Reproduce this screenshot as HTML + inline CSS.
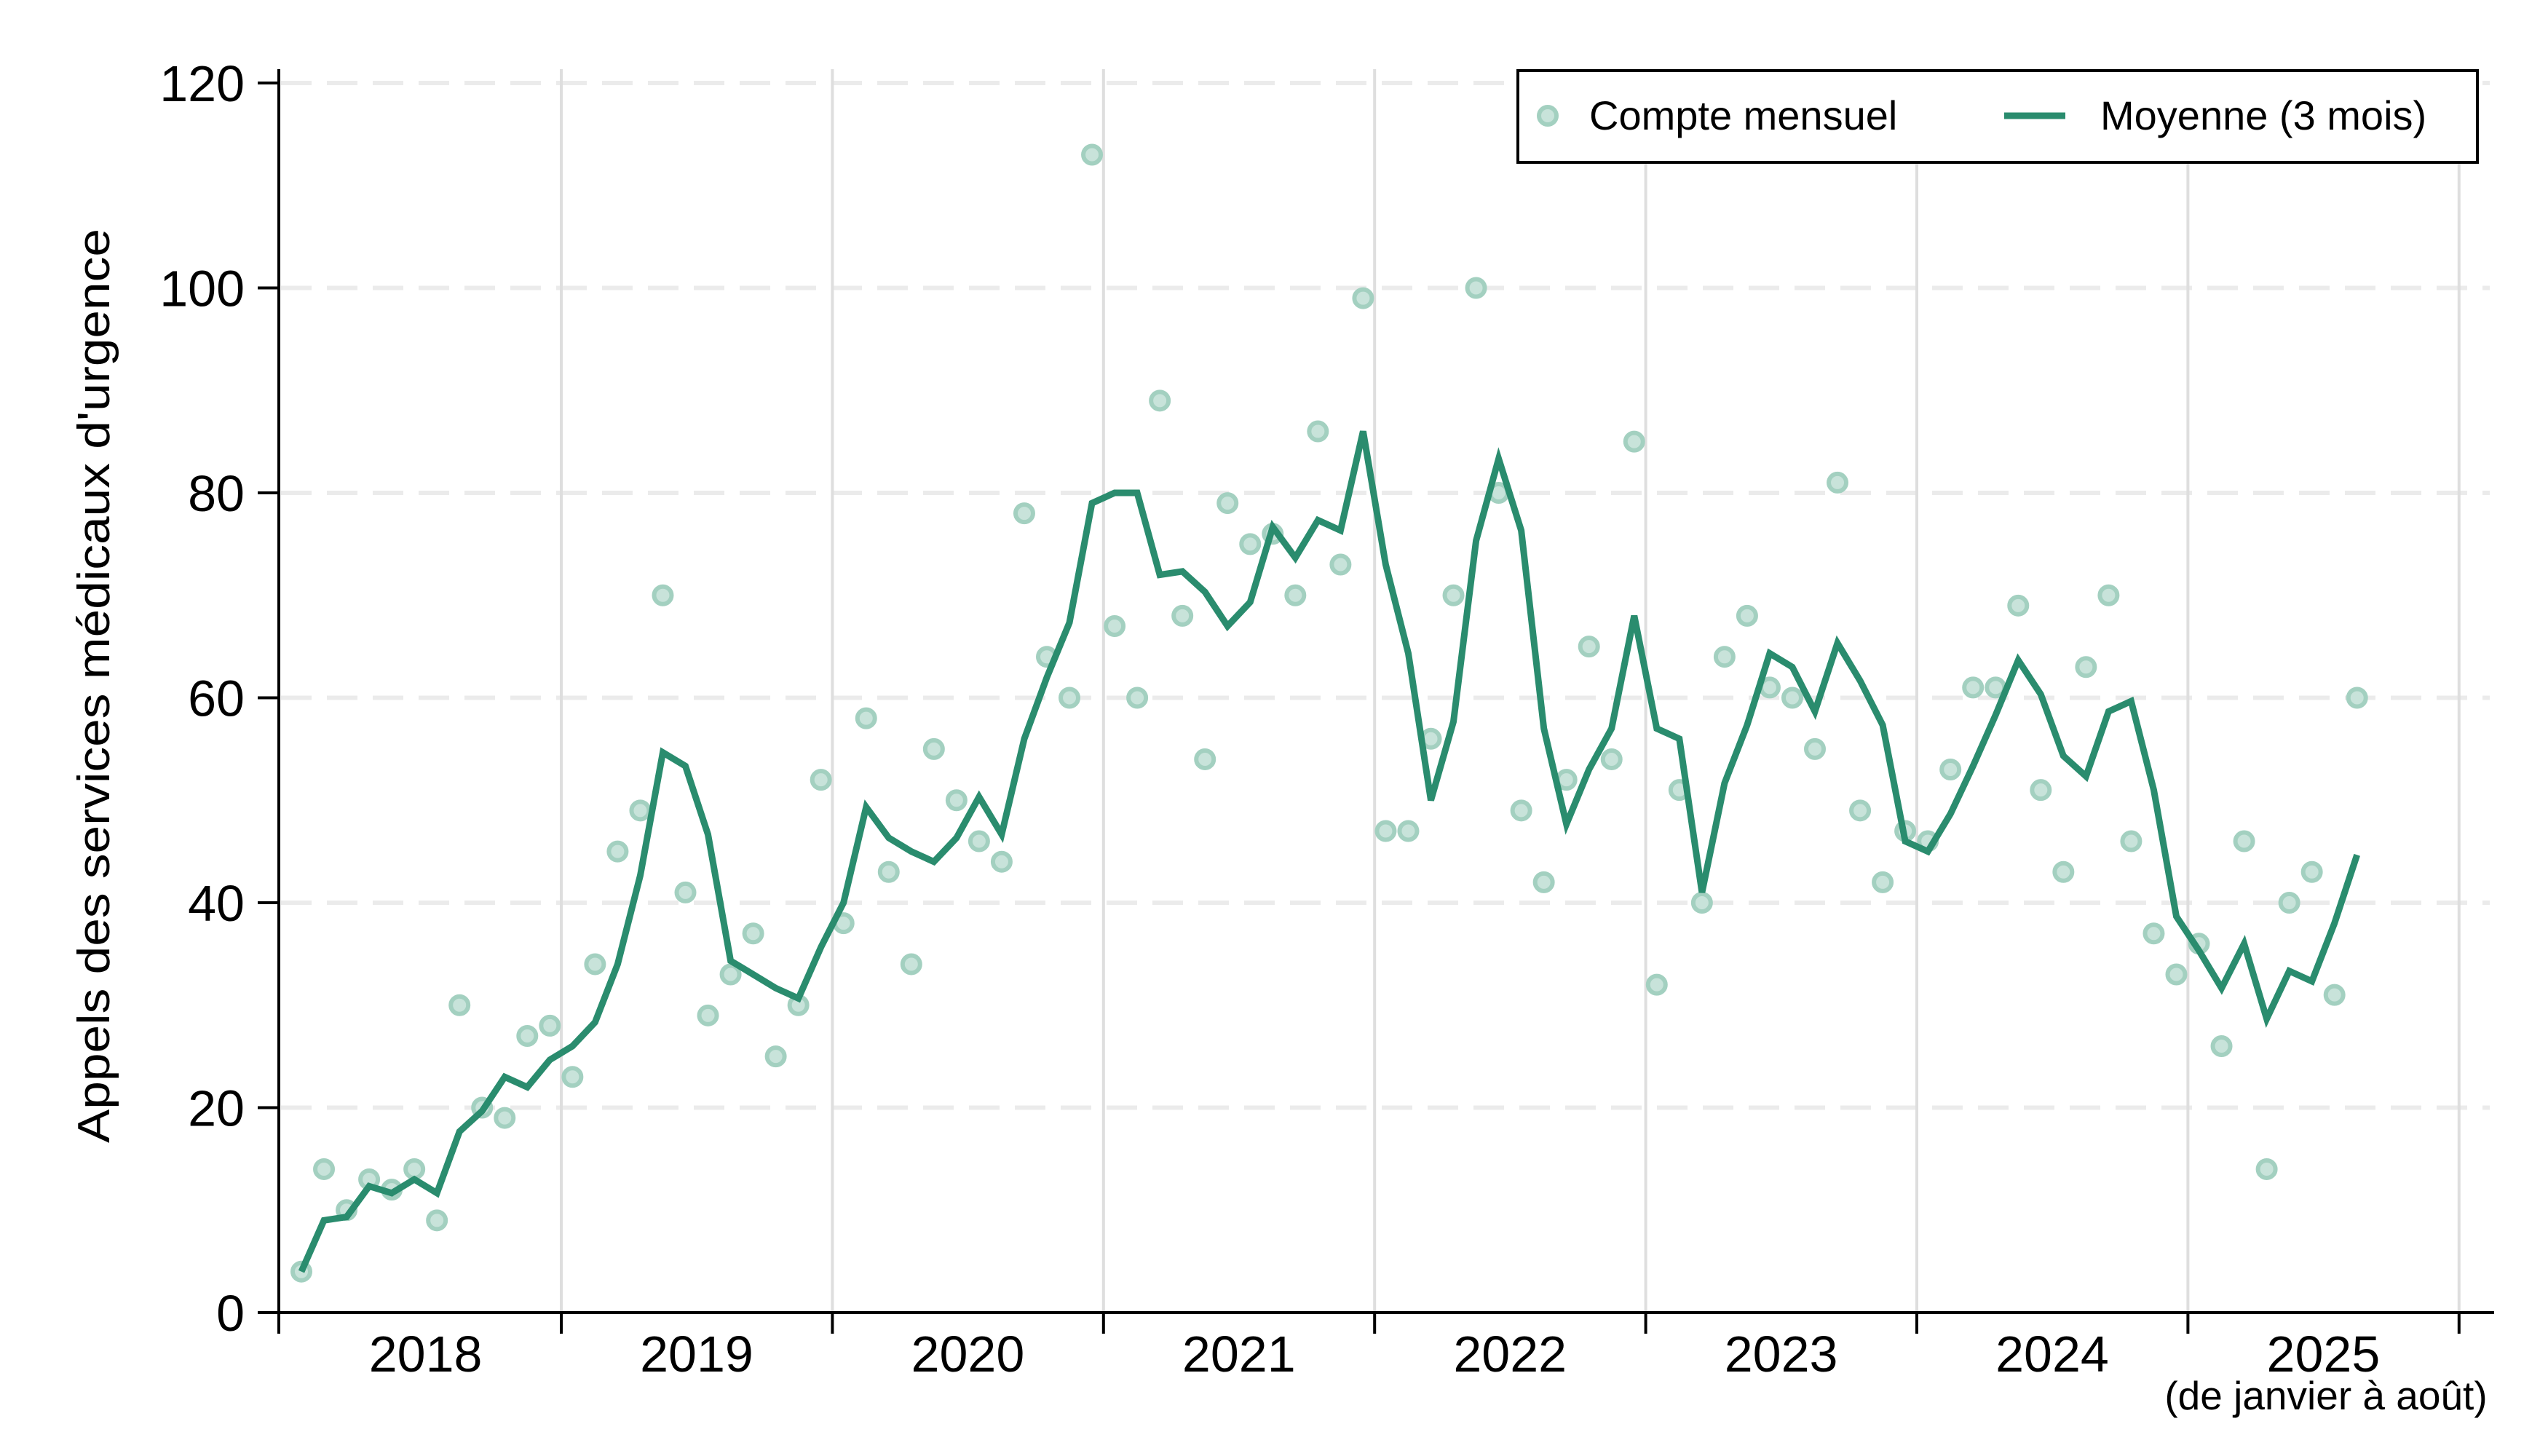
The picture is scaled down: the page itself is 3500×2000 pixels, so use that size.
<!DOCTYPE html>
<html><head><meta charset="utf-8"><style>
html,body{margin:0;padding:0;background:#fff;}
svg{display:block;font-family:"Liberation Sans",Arial,sans-serif;}
</style></head><body>
<svg id="s" width="3500" height="2000" viewBox="0 0 3500 2000" xmlns="http://www.w3.org/2000/svg">
<rect width="3500" height="2000" fill="#fff"/>
<g id="grid"></g>
<g id="axes" stroke="#000" stroke-width="4" fill="none"></g>
<g id="ylab" font-size="70" text-anchor="end" fill="#000"></g>
<g id="xlab" font-size="70" text-anchor="middle" fill="#000"></g>
<text x="3195" y="1936" font-size="55" text-anchor="middle">(de janvier à août)</text>
<text transform="translate(150,942) rotate(-90)" font-size="62" text-anchor="middle" textLength="1256" lengthAdjust="spacingAndGlyphs">Appels des services médicaux d'urgence</text>
<g id="pts"></g>
<polyline id="line" fill="none" stroke="#2a8c6e" stroke-width="9" stroke-linejoin="miter"/>
<rect x="2085" y="97" width="1318" height="126" fill="#fff" stroke="#000" stroke-width="4"/>
<circle cx="2126" cy="159" r="12" fill="#c8e3da" stroke="#a3d0c0" stroke-width="6"/>
<text x="2183" y="178" font-size="56">Compte mensuel</text>
<line x1="2753" y1="159" x2="2837" y2="159" stroke="#2a8c6e" stroke-width="9"/>
<text x="2885" y="178" font-size="56">Moyenne (3 mois)</text>
</svg>
<script>
var NS="http://www.w3.org/2000/svg";
function el(p,t,a,txt){var e=document.createElementNS(NS,t);for(var k in a)e.setAttribute(k,a[k]);if(txt!=null)e.textContent=txt;document.getElementById(p).appendChild(e);return e;}
var y0=1803,unit=281.5/20;
function Y(v){return y0-v*unit;}
function X(m){return 414+31.03*m;}
for(var v=20;v<=120;v+=20){el("grid","line",{x1:386,x2:3420,y1:Y(v),y2:Y(v),stroke:"#ebebeb","stroke-width":6,"stroke-dasharray":"42 21"});}
for(var k=1;k<=8;k++){var x=398.6+372.4*k;el("grid","line",{x1:x,x2:x,y1:95,y2:1803,stroke:"#dedede","stroke-width":4});}
el("axes","line",{x1:383,y1:95,x2:383,y2:1805});
el("axes","line",{x1:381,y1:1803,x2:3426,y2:1803});
for(var v=0;v<=120;v+=20){el("axes","line",{x1:354,x2:383,y1:Y(v),y2:Y(v)});el("ylab","text",{x:336,y:Y(v)+25},String(v));}
var ticks=[383];for(var k=1;k<=8;k++)ticks.push(398.6+372.4*k);
ticks.forEach(function(x){el("axes","line",{x1:x,x2:x,y1:1803,y2:1832});});
for(var k=0;k<8;k++){el("xlab","text",{x:398.6+372.4*k+186,y:1884},String(2018+k));}
var d=[4,14,10,13,12,14,9,30,20,19,27,28,
23,34,45,49,70,41,29,33,37,25,30,52,
38,58,43,34,55,50,46,44,78,64,60,113,
67,60,89,68,54,79,75,76,70,86,73,99,
47,47,56,70,100,80,49,42,52,65,54,85,
32,51,40,64,68,61,60,55,81,49,42,47,
46,53,61,61,69,51,43,63,70,46,37,33,
36,26,46,14,40,43,31,60];
var pts=[];
d.forEach(function(v,i){
 el("pts","circle",{cx:X(i),cy:Y(v),r:12,fill:"#c8e3da",stroke:"#a3d0c0","stroke-width":6});
 var s=0,n=0;for(var j=Math.max(0,i-2);j<=i;j++){s+=d[j];n++;}
 pts.push(X(i).toFixed(1)+","+Y(s/n).toFixed(1));
});
document.getElementById("line").setAttribute("points",pts.join(" "));
</script>
</body></html>
